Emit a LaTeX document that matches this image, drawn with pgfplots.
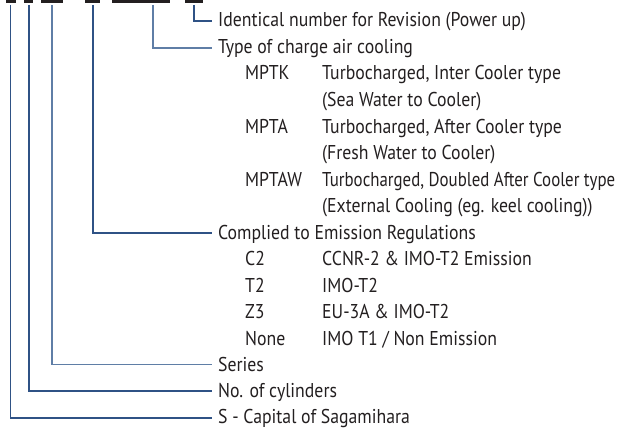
\documentclass[border=0pt]{standalone}
\usepackage{fontspec}
\setmainfont[FakeStretch=0.887]{PT Sans}
\usepackage{graphicx}
\usepackage{pgfplots}
\pgfplotsset{compat=1.18}
\definecolor{txt}{HTML}{231F20}
\definecolor{ln}{HTML}{2F5285}
\definecolor{lnl}{HTML}{5F7EA6}
\tikzset{lbl/.style={anchor=base west, inner sep=0pt, text=txt, font=\fontsize{20bp}{24bp}\selectfont}}
\begin{document}
\begin{tikzpicture}
\begin{axis}[
  width=618bp, height=431bp, scale only axis,
  xmin=0, xmax=618, ymin=0, ymax=431, y dir=reverse,
  hide axis, clip=true,
]
% header glyph bottoms (underlined code)
\addplot[fill=txt, draw=none] coordinates {(6,0) (16,0) (16,3) (6,3)} -- cycle;
\addplot[fill=txt, draw=none] coordinates {(24,0) (33,0) (33,3) (24,3)} -- cycle;
\addplot[fill=txt, draw=none] coordinates {(41,0) (63,0) (63,3) (41,3)} -- cycle;
\addplot[fill=txt, draw=none] coordinates {(85,0) (100,0) (100,3) (85,3)} -- cycle;
\addplot[fill=txt, draw=none] coordinates {(112,0) (170,0) (170,3) (112,3)} -- cycle;
\addplot[fill=txt, draw=none] coordinates {(185,0) (203,0) (203,3) (185,3)} -- cycle;
% leader lines
\addplot[ln, line width=1.3bp] coordinates {(10.5,5) (10.5,418) (212,418)};
\addplot[ln, line width=1.3bp] coordinates {(29,5) (29,391) (212,391)};
\addplot[lnl, line width=1.3bp] coordinates {(52,5) (52,364.5) (212,364.5)};
\addplot[ln, line width=1.3bp] coordinates {(93,5) (93,233) (212,233)};
\addplot[lnl, line width=1.3bp] coordinates {(153,5) (153,48) (212,48)};
\addplot[ln, line width=1.3bp] coordinates {(194,5) (194,21) (212,21)};
% texts
\node[lbl] at (axis cs:218,26.5) {Identical number for Revision (Power up)};
\node[lbl] at (axis cs:218,53.5) {Type of charge air cooling};
\node[lbl] at (axis cs:245,80) {MPTK};
\node[lbl] at (axis cs:322,80) {Turbocharged, Inter Cooler type};
\node[lbl] at (axis cs:322,106.5) {(Sea Water to Cooler)};
\node[lbl] at (axis cs:245,133) {MPTA};
\node[lbl] at (axis cs:322,133) {Turbocharged, After Cooler type};
\node[lbl] at (axis cs:322,159.5) {(Fresh Water to Cooler)};
\node[lbl] at (axis cs:245,186) {MPTAW};
\node[lbl] at (axis cs:322,186) {\scalebox{0.95}[1]{Turbocharged, Doubled After Cooler type}};
\node[lbl] at (axis cs:322,212.5) {(External Cooling (eg. keel cooling))};
\node[lbl] at (axis cs:218,239) {Complied to Emission Regulations};
\node[lbl] at (axis cs:245,265.5) {C2};
\node[lbl] at (axis cs:322,265.5) {CCNR-2 \& IMO-T2 Emission};
\node[lbl] at (axis cs:245,292) {T2};
\node[lbl] at (axis cs:322,292) {IMO-T2};
\node[lbl] at (axis cs:245,318.5) {Z3};
\node[lbl] at (axis cs:322,318.5) {EU-3A \& IMO-T2};
\node[lbl] at (axis cs:245,345) {None};
\node[lbl] at (axis cs:322,345) {IMO T1 / Non Emission};
\node[lbl] at (axis cs:218,371) {Series};
\node[lbl] at (axis cs:218,397) {No. of cylinders};
\node[lbl] at (axis cs:218,423.5) {S - Capital of Sagamihara};
\end{axis}
\useasboundingbox (current axis.south west) rectangle (current axis.north east);
\end{tikzpicture}
\end{document}
